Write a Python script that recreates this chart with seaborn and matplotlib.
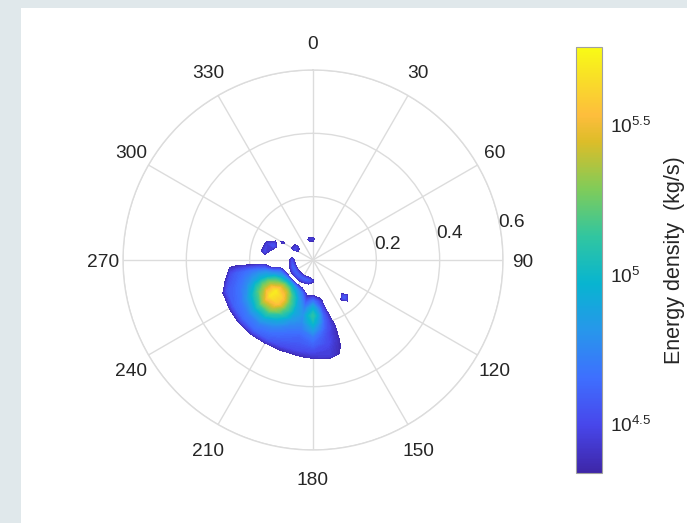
import numpy as np
import matplotlib
matplotlib.use("Agg")
import matplotlib.pyplot as plt
import seaborn as sns
from matplotlib.colors import LogNorm, LinearSegmentedColormap
from matplotlib.cm import ScalarMappable
from matplotlib.ticker import LogLocator, NullFormatter, FixedLocator, FixedFormatter
from matplotlib.patches import Rectangle

# ---------------- data ----------------
# polar grid: direction in degrees (clockwise from north), radius
theta_deg = [130, 140, 150, 160, 170, 180, 190, 200, 210, 220, 230, 240, 250,
             260, 270, 280, 290, 300, 310, 320, 330, 340, 350, 360, 370]
r_vals = [0.000, 0.022, 0.044, 0.066, 0.088, 0.110, 0.132, 0.154, 0.176,
          0.198, 0.220, 0.242, 0.264, 0.286, 0.308, 0.330, 0.352]
# log10 of energy density (kg/s); rows follow r_vals, columns follow theta_deg
log_density = [
    [3.8]*25,
    [3.8]*25,
    [3.8, 3.8, 3.8, 3.8, 3.8, 3.8, 3.7, 3.6, 3.6, 3.6, 3.6, 3.6, 3.6, 3.6, 3.7, 3.8, 3.8, 4.2, 4.2, 3.8, 3.8, 3.8, 4.0, 4.0, 3.8],
    [3.8, 3.8, 3.8, 3.8, 4.0, 4.42, 4.57, 4.6, 4.6, 4.6, 4.6, 4.6, 4.6, 4.55, 4.5, 4.3, 3.8, 4.5, 4.45, 3.8, 3.8, 4.2, 4.45, 4.45, 4.2],
    [3.8, 3.8, 3.8, 3.8, 3.9, 3.9, 4.0, 3.95, 4.0, 4.0, 4.0, 4.0, 3.9, 3.8, 3.8, 3.8, 3.8, 4.2, 4.2, 3.8, 3.8, 3.8, 4.0, 4.0, 3.8],
    [3.8, 3.8, 3.8, 3.8, 4.2, 4.3, 4.3, 4.7, 4.9, 5.05, 5.05, 4.9, 4.7, 4.25, 3.8, 3.8, 4.0, 4.42, 3.8, 3.8, 3.8, 3.8, 3.8, 3.8, 3.8],
    [3.8, 4.2, 3.8, 3.8, 4.45, 4.7, 4.55, 4.85, 5.15, 5.42, 5.45, 5.22, 4.85, 4.35, 3.8, 4.1, 4.55, 4.25, 3.8, 3.8, 3.8, 3.8, 3.8, 3.8, 3.8],
    [3.8, 4.6, 3.8, 3.8, 4.55, 4.95, 4.72, 4.92, 5.25, 5.6, 5.7, 5.38, 4.95, 4.62, 3.8, 4.5, 4.45, 3.8, 3.8, 3.8, 3.8, 3.8, 3.8, 3.8, 3.8],
    [3.8, 4.2, 3.8, 4.03, 4.62, 5.1, 4.8, 4.92, 5.22, 5.58, 5.68, 5.35, 4.95, 4.67, 3.6, 4.2, 3.9, 3.8, 3.8, 3.8, 3.8, 3.8, 3.8, 3.8, 3.8],
    [3.8, 3.8, 3.8, 4.22, 4.62, 5.0, 4.77, 4.84, 5.1, 5.38, 5.44, 5.2, 4.87, 4.67, 3.6, 3.8, 3.8, 3.8, 3.8, 3.8, 3.8, 3.8, 3.8, 3.8, 3.8],
    [3.8, 3.8, 3.8, 4.32, 4.58, 4.85, 4.7, 4.74, 4.9, 5.12, 5.15, 5.0, 4.77, 4.64, 3.9, 3.8, 3.8, 3.8, 3.8, 3.8, 3.8, 3.8, 3.8, 3.8, 3.8],
    [3.8, 3.8, 3.8, 4.32, 4.53, 4.7, 4.62, 4.66, 4.76, 4.88, 4.9, 4.8, 4.68, 4.6, 4.0, 3.8, 3.8, 3.8, 3.8, 3.8, 3.8, 3.8, 3.8, 3.8, 3.8],
    [3.8, 3.8, 3.8, 4.32, 4.52, 4.62, 4.57, 4.6, 4.66, 4.72, 4.72, 4.67, 4.62, 4.52, 4.1, 3.8, 3.8, 3.8, 3.8, 3.8, 3.8, 3.8, 3.8, 3.8, 3.8],
    [3.8, 3.8, 3.8, 4.32, 4.47, 4.52, 4.52, 4.52, 4.58, 4.63, 4.63, 4.61, 4.57, 4.16, 3.8, 3.8, 3.8, 3.8, 3.8, 3.8, 3.8, 3.8, 3.8, 3.8, 3.8],
    [3.8, 3.8, 3.8, 4.27, 4.45, 4.4, 4.33, 4.3, 4.27, 4.32, 4.34, 4.32, 4.27, 3.8, 3.8, 3.8, 3.8, 3.8, 3.8, 3.8, 3.8, 3.8, 3.8, 3.8, 3.8],
    [3.8, 3.8, 3.8, 3.8, 4.1, 3.9, 3.8, 3.8, 3.8, 3.8, 3.8, 3.8, 3.8, 3.8, 3.8, 3.8, 3.8, 3.8, 3.8, 3.8, 3.8, 3.8, 3.8, 3.8, 3.8],
    [3.8]*25,
]
draw_threshold_log = 4.36           # cells below this are left blank
cbar_range_log = (4.337, 5.762)     # colour-bar limits (log10)
theta_ticks = [0, 30, 60, 90, 120, 150, 180, 210, 240, 270, 300, 330]
theta_tick_labels = ["0", "30", "60", "90", "120", "150", "180", "210", "240", "270", "300", "330"]
r_ticks = [0.2, 0.4, 0.6]
r_tick_labels = ["0.2", "0.4", "0.6"]
cbar_ticks_log = [4.5, 5.0, 5.5]
cbar_tick_labels = [r"$\mathregular{10^{4.5}}$", r"$\mathregular{10^{5}}$", r"$\mathregular{10^{5.5}}$"]
cbar_label = "Energy density  (kg/s)"

# ---------------- style ----------------
sns.set_theme(style="white")
plt.rcParams["font.family"] = ["Liberation Sans", "DejaVu Sans"]
plt.rcParams["mathtext.fontset"] = "custom"
plt.rcParams["mathtext.rm"] = "Liberation Sans"
plt.rcParams["mathtext.it"] = "Liberation Sans:italic"
plt.rcParams["text.color"] = "#262626"

# parula-like colour map
parula_stops = [
    (0.000, (0.2422, 0.1504, 0.6603)),
    (0.111, (0.2803, 0.2782, 0.9221)),
    (0.222, (0.2440, 0.4358, 0.9988)),
    (0.333, (0.1540, 0.5902, 0.9218)),
    (0.444, (0.0297, 0.7082, 0.8163)),
    (0.556, (0.1938, 0.7758, 0.6251)),
    (0.667, (0.5044, 0.7993, 0.3480)),
    (0.778, (0.8634, 0.7406, 0.1596)),
    (0.841, (0.9956, 0.7434, 0.2371)),
    (0.905, (0.9786, 0.8386, 0.1766)),
    (1.000, (0.9769, 0.9839, 0.0805)),
]
cmap = LinearSegmentedColormap.from_list("parula", parula_stops)

W, H = 687, 523
fig = plt.figure(figsize=(W / 100, H / 100), dpi=100)
fig.patch.set_facecolor("#e0e8eb")
fig.patches.append(Rectangle((21 / W, 0), 1, (H - 8) / H, transform=fig.transFigure,
                             facecolor="white", edgecolor="none", zorder=-10))

cx, cy, R = 313, 260, 190
ax = fig.add_axes([(cx - R) / W, (H - cy - R) / H, 2 * R / W, 2 * R / H], projection="polar")
ax.set_facecolor("white")
ax.set_theta_zero_location("N")
ax.set_theta_direction(-1)

TH, RR = np.meshgrid(np.deg2rad(theta_deg), np.array(r_vals))
Z = 10 ** np.array(log_density)
norm = LogNorm(vmin=10 ** cbar_range_log[0], vmax=10 ** cbar_range_log[1])
levels = np.logspace(draw_threshold_log, cbar_range_log[1], 90)
ax.contourf(TH, RR, Z, levels=levels, cmap=cmap, norm=norm, zorder=2)

ax.set_ylim(0, 0.6)
ax.set_axisbelow(True)
ax.set_thetagrids(theta_ticks, labels=[""] * len(theta_ticks))
ax.set_rgrids(r_ticks, labels=[""] * len(r_ticks))
ax.grid(True, color="#dcdcdc", linewidth=1.0)
ax.spines["polar"].set_color("#dcdcdc")
ax.spines["polar"].set_linewidth(1.0)

# theta labels just outside the rim (slightly farther above/below than at the sides)
px2pt = 0.72
for t, lab in zip(theta_ticks, theta_tick_labels):
    a = np.deg2rad(t)
    ax.annotate(lab, xy=(a, 0.6),
                xytext=(20 * np.sin(a) * px2pt, (28 * np.cos(a) - 2.5) * px2pt),
                textcoords="offset points", ha="center", va="center",
                fontsize=13.8, color="#262626", annotation_clip=False)
for r, lab in zip(r_ticks, r_tick_labels):
    ax.annotate(lab, xy=(np.deg2rad(80), r), xytext=(-1, 3), textcoords="offset points",
                ha="left", va="center", fontsize=13.8, color="#262626", annotation_clip=False)

# colour bar
cax = fig.add_axes([576 / W, (H - 472.7) / H, 25.7 / W, 426 / H])
sm = ScalarMappable(norm=norm, cmap=cmap)
cb = fig.colorbar(sm, cax=cax)
cb.outline.set_edgecolor("#a0a0a0")
cb.outline.set_linewidth(0.8)
cax.yaxis.set_major_locator(FixedLocator([10 ** v for v in cbar_ticks_log]))
cax.yaxis.set_major_formatter(FixedFormatter(cbar_tick_labels))
cax.yaxis.set_minor_locator(LogLocator(base=10, subs=np.arange(2, 10)))
cax.yaxis.set_minor_formatter(NullFormatter())
cax.tick_params(which="major", direction="in", length=4, width=0.8, color="#404040",
                labelsize=13.8, labelcolor="#262626", pad=6, right=True, left=False)
cax.tick_params(which="minor", direction="in", length=2.5, width=0.7, color="#404040",
                right=True, left=False)
cb.set_label(cbar_label, fontsize=15.5, color="#262626", labelpad=9)

fig.savefig("out.png", dpi=100)
